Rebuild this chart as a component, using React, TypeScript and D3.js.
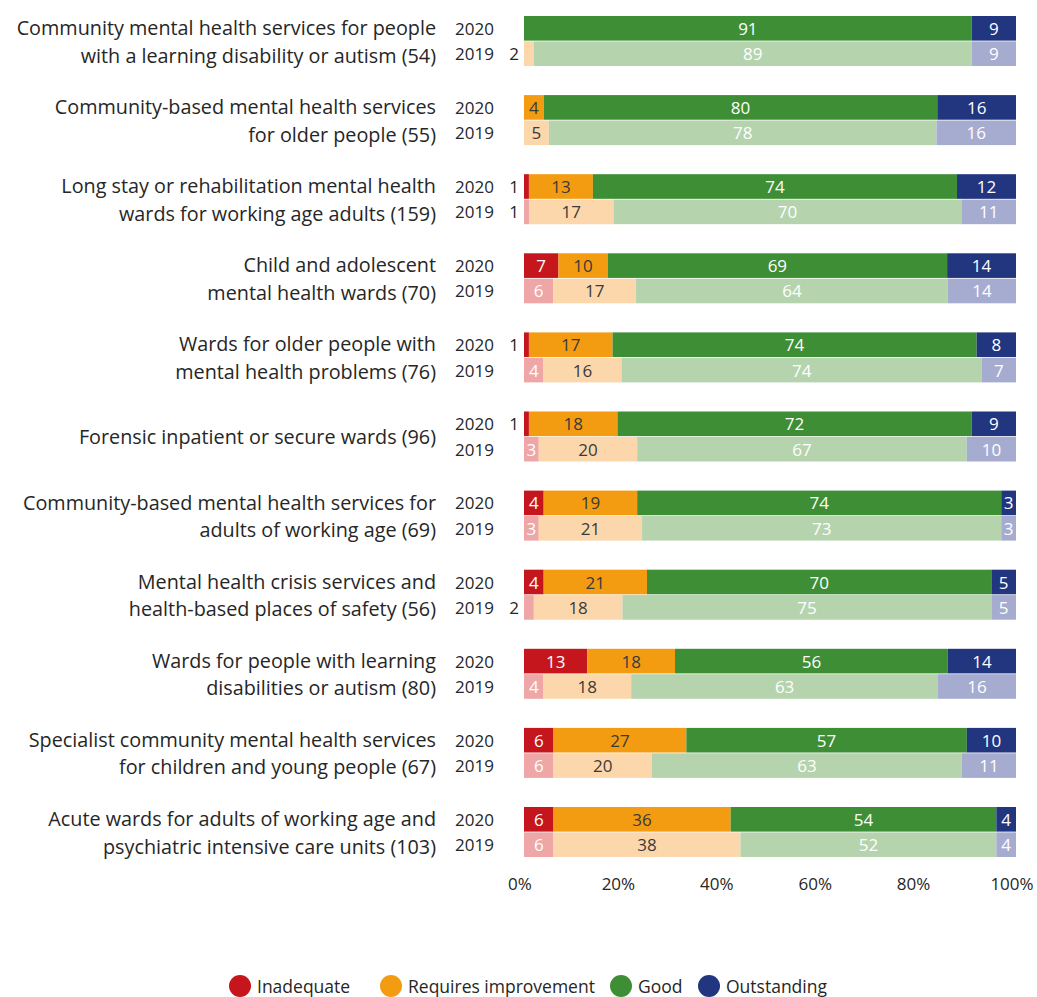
import React from "react";
import * as d3 from "d3";

const categories: string[][] = [
  ["Community mental health services for people", "with a learning disability or autism (54)"],
  ["Community-based mental health services", "for older people (55)"],
  ["Long stay or rehabilitation mental health", "wards for working age adults (159)"],
  ["Child and adolescent", "mental health wards (70)"],
  ["Wards for older people with", "mental health problems (76)"],
  ["Forensic inpatient or secure wards (96)"],
  ["Community-based mental health services for", "adults of working age (69)"],
  ["Mental health crisis services and", "health-based places of safety (56)"],
  ["Wards for people with learning", "disabilities or autism (80)"],
  ["Specialist community mental health services", "for children and young people (67)"],
  ["Acute wards for adults of working age and", "psychiatric intensive care units (103)"],
];

const years = ["2020", "2019"];
const ratings = ["Inadequate", "Requires improvement", "Good", "Outstanding"];

const inadequate2020 = [0, 0, 1, 7, 1, 1, 4, 4, 13, 6, 6];
const requires2020 = [0, 4, 13, 10, 17, 18, 19, 21, 18, 27, 36];
const good2020 = [91, 80, 74, 69, 74, 72, 74, 70, 56, 57, 54];
const outstanding2020 = [9, 16, 12, 14, 8, 9, 3, 5, 14, 10, 4];

const inadequate2019 = [0, 0, 1, 6, 4, 3, 3, 2, 4, 6, 6];
const requires2019 = [2, 5, 17, 17, 16, 20, 21, 18, 18, 20, 38];
const good2019 = [89, 78, 70, 64, 74, 67, 73, 75, 63, 63, 52];
const outstanding2019 = [9, 16, 11, 14, 7, 10, 3, 5, 16, 11, 4];

const axisTicks = [0, 20, 40, 60, 80, 100];

const strongColors = ["#c4161c", "#f39c12", "#3e8e35", "#22357f"];
const paleColors = ["#eea6a6", "#fcd7ab", "#b5d4ae", "#a6acd0"];
const strongText = ["#ffffff", "#3a3a3a", "#ffffff", "#ffffff"];
const paleText = ["#ffffff", "#3a3a3a", "#ffffff", "#ffffff"];

const FONT = "'Open Sans', 'Noto Sans', sans-serif";

export default function App() {
  const width = 1037;
  const height = 997;
  const x = d3.scaleLinear().domain([0, 100]).range([524, 1016]);
  const groupY = d3
    .scaleBand<number>()
    .domain(d3.range(categories.length))
    .range([16, 16 + 79.1 * categories.length])
    .paddingInner(0);
  const yearY = d3.scaleBand<string>().domain(years).range([0, 50]).paddingInner(0.03);
  const legendX = d3.scalePoint<string>().domain(ratings);
  const legendPos = [240, 391, 621, 709];

  const series2020 = [inadequate2020, requires2020, good2020, outstanding2020];
  const series2019 = [inadequate2019, requires2019, good2019, outstanding2019];

  const rows = categories.flatMap((_, i) =>
    years.map((yr) => {
      const src = yr === "2020" ? series2020 : series2019;
      const vals = src.map((s) => s[i]);
      const total = d3.sum(vals);
      const cum = d3.cumsum(vals);
      const segs = vals.map((v, k) => ({
        k,
        v,
        x0: ((cum[k] - v) / total) * 100,
        x1: (cum[k] / total) * 100,
      }));
      return { i, yr, segs };
    })
  );

  return (
    <svg width={width} height={height} style={{ display: "block", position: "absolute", left: 0, top: 0 }} fontFamily={FONT}>
      <rect width={width} height={height} fill="#ffffff" />
      {categories.map((lines, i) => {
        const top = groupY(i)!;
        const mid = top + 25;
        const ys = lines.length === 1 ? [mid] : [mid - 13.5, mid + 14];
        return lines.map((ln, j) => (
          <text key={`c${i}-${j}`} x={436} y={ys[j]} textAnchor="end" dominantBaseline="central" fontSize={19.8} fill="#262626">
            {ln}
          </text>
        ));
      })}
      {rows.map(({ i, yr, segs }) => {
        const y0 = groupY(i)! + yearY(yr)!;
        const h = yearY.bandwidth();
        const cols = yr === "2020" ? strongColors : paleColors;
        const tcols = yr === "2020" ? strongText : paleText;
        return (
          <g key={`r${i}-${yr}`}>
            <text x={455} y={y0 + h / 2} dominantBaseline="central" fontSize={17} fill="#262626">
              {yr}
            </text>
            {segs.map((s) =>
              s.v > 0 ? (
                <rect key={s.k} x={x(s.x0)} y={y0} width={x(s.x1) - x(s.x0)} height={h} fill={cols[s.k]} />
              ) : null
            )}
            {segs.map((s) => {
              if (s.v <= 0) return null;
              const outside = s.v <= 2;
              return (
                <text
                  key={`t${s.k}`}
                  x={outside ? x(0) - 5 : (x(s.x0) + x(s.x1)) / 2}
                  y={y0 + h / 2}
                  textAnchor={outside ? "end" : "middle"}
                  dominantBaseline="central"
                  fontSize={17}
                  fill={outside ? "#262626" : tcols[s.k]}
                >
                  {s.v}
                </text>
              );
            })}
          </g>
        );
      })}
      {axisTicks.map((t) => (
        <text key={`a${t}`} x={x(t) - 4} y={883} textAnchor="middle" dominantBaseline="central" fontSize={17} fill="#262626">
          {t}%
        </text>
      ))}
      {ratings.map((r, k) => (
        <g key={`l${k}`} data-idx={legendX(r)}>
          <circle cx={legendPos[k]} cy={986} r={11} fill={strongColors[k]} />
          <text x={legendPos[k] + 17} y={986} dominantBaseline="central" fontSize={17.5} fill="#262626">
            {r}
          </text>
        </g>
      ))}
    </svg>
  );
}
